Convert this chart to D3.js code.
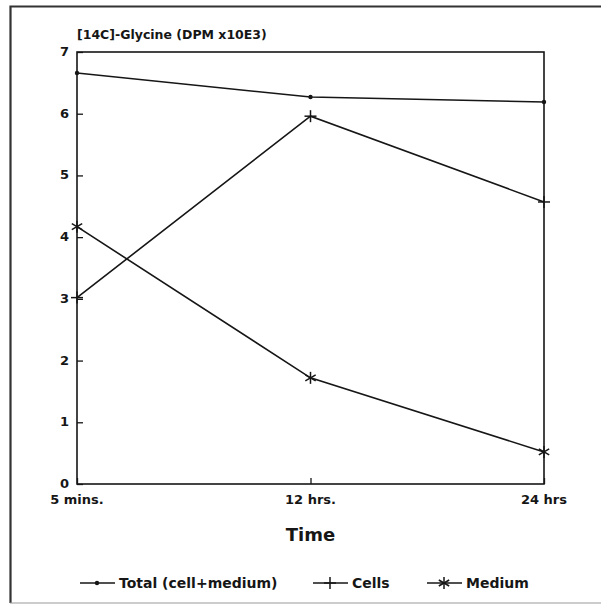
<!DOCTYPE html>
<html>
<head>
<meta charset="utf-8">
<script src="https://cdn.jsdelivr.net/npm/d3@7"></script>
<style>
  body { margin: 0; background: #fff; }
  text { font-family: "DejaVu Sans", sans-serif; font-weight: bold; fill: #161616; }
</style>
</head>
<body>
<script>
// chart data
var timePoints = ["5 mins.", "12 hrs.", "24 hrs"];
var totalVals = [6.66, 6.27, 6.19];
var cellVals = [3.02, 5.96, 4.57];
var mediumVals = [4.17, 1.72, 0.52];
var yTicks = [0, 1, 2, 3, 4, 5, 6, 7];
var legendNames = ["Total (cell+medium)", "Cells", "Medium"];

var w = 601;
var h = 607;
var plotL = 77, plotR = 544, plotT = 52, plotB = 484;
var ink = "#161616";

var svg = d3.select("body").append("svg")
  .attr("width", w)
  .attr("height", h);

// outer frame of the scan (no right edge)
svg.append("path")
  .attr("d", "M601,6.5 H10.5 V603")
  .attr("fill", "none")
  .attr("stroke", "#333")
  .attr("stroke-width", 2.2);
svg.append("line")
  .attr("x1", 10).attr("x2", 601).attr("y1", 603).attr("y2", 603)
  .attr("stroke", "#999").attr("stroke-width", 1);

var x = d3.scalePoint().domain(timePoints).range([plotL, plotR]);
var y = d3.scaleLinear().domain([0, 7]).range([plotB, plotT]);

// plot box
svg.append("rect")
  .attr("x", plotL).attr("y", plotT)
  .attr("width", plotR - plotL).attr("height", plotB - plotT)
  .attr("fill", "none").attr("stroke", ink).attr("stroke-width", 1.6);

// y axis: ticks point inward
var yAxis = svg.append("g")
  .attr("transform", "translate(" + plotL + ",0)")
  .call(d3.axisRight(y).tickValues(yTicks).tickSize(6).tickFormat(""));
yAxis.select(".domain").remove();
yAxis.selectAll("line").attr("stroke", ink).attr("stroke-width", 1.3);

svg.selectAll(".ylab")
  .data(yTicks)
  .enter().append("text")
  .attr("class", "ylab")
  .attr("x", plotL - 8)
  .attr("y", function(d) { return y(d) + 4; })
  .attr("text-anchor", "end")
  .attr("font-size", 13)
  .text(function(d) { return d; });

// x axis ticks point up
var xAxis = svg.append("g")
  .attr("transform", "translate(0," + plotB + ")")
  .call(d3.axisTop(x).tickSize(6).tickFormat(""));
xAxis.select(".domain").remove();
xAxis.selectAll("line").attr("stroke", ink).attr("stroke-width", 1.3);

svg.selectAll(".xlab")
  .data(timePoints)
  .enter().append("text")
  .attr("class", "xlab")
  .attr("x", function(d) { return x(d); })
  .attr("y", 504)
  .attr("text-anchor", "middle")
  .attr("font-size", 13)
  .text(function(d) { return d; });

// titles
svg.append("text")
  .attr("x", plotL)
  .attr("y", 39)
  .attr("font-size", 12.5)
  .text("[14C]-Glycine (DPM x10E3)");

svg.append("text")
  .attr("x", (plotL + plotR) / 2)
  .attr("y", 541)
  .attr("text-anchor", "middle")
  .attr("font-size", 18)
  .text("Time");

var line = d3.line()
  .x(function(d, i) { return x(timePoints[i]); })
  .y(function(d) { return y(d); });

var series = [totalVals, cellVals, mediumVals];
series.forEach(function(vals) {
  svg.append("path")
    .datum(vals)
    .attr("d", line)
    .attr("fill", "none")
    .attr("stroke", ink)
    .attr("stroke-width", 1.6);
});

function drawMarker(g, kind, cx, cy) {
  if (kind == 0) {
    g.append("circle").attr("cx", cx).attr("cy", cy).attr("r", 2.2).attr("fill", ink);
  } else if (kind == 1) {
    g.append("line").attr("x1", cx).attr("x2", cx).attr("y1", cy - 6).attr("y2", cy + 6)
      .attr("stroke", ink).attr("stroke-width", 1.5);
    g.append("line").attr("x1", cx - 6).attr("x2", cx + 6).attr("y1", cy).attr("y2", cy)
      .attr("stroke", ink).attr("stroke-width", 1.5);
  } else {
    [0, 60, 120].forEach(function(a) {
      var r = a * Math.PI / 180;
      g.append("line")
        .attr("x1", cx - 6 * Math.sin(r)).attr("x2", cx + 6 * Math.sin(r))
        .attr("y1", cy - 6 * Math.cos(r)).attr("y2", cy + 6 * Math.cos(r))
        .attr("stroke", ink).attr("stroke-width", 1.5);
    });
  }
}

var marks = svg.append("g");
series.forEach(function(vals, k) {
  vals.forEach(function(v, i) {
    drawMarker(marks, k, x(timePoints[i]), y(v));
  });
});

// legend
var legendX = [80, 313, 427];
var legY = 583;
legendNames.forEach(function(name, k) {
  var g = svg.append("g");
  g.append("line")
    .attr("x1", legendX[k]).attr("x2", legendX[k] + 35)
    .attr("y1", legY).attr("y2", legY)
    .attr("stroke", ink).attr("stroke-width", 1.6);
  drawMarker(g, k, legendX[k] + 17, legY);
  g.append("text")
    .attr("x", legendX[k] + 39)
    .attr("y", legY + 5)
    .attr("font-size", 14)
    .text(name);
});
</script>
</body>
</html>
